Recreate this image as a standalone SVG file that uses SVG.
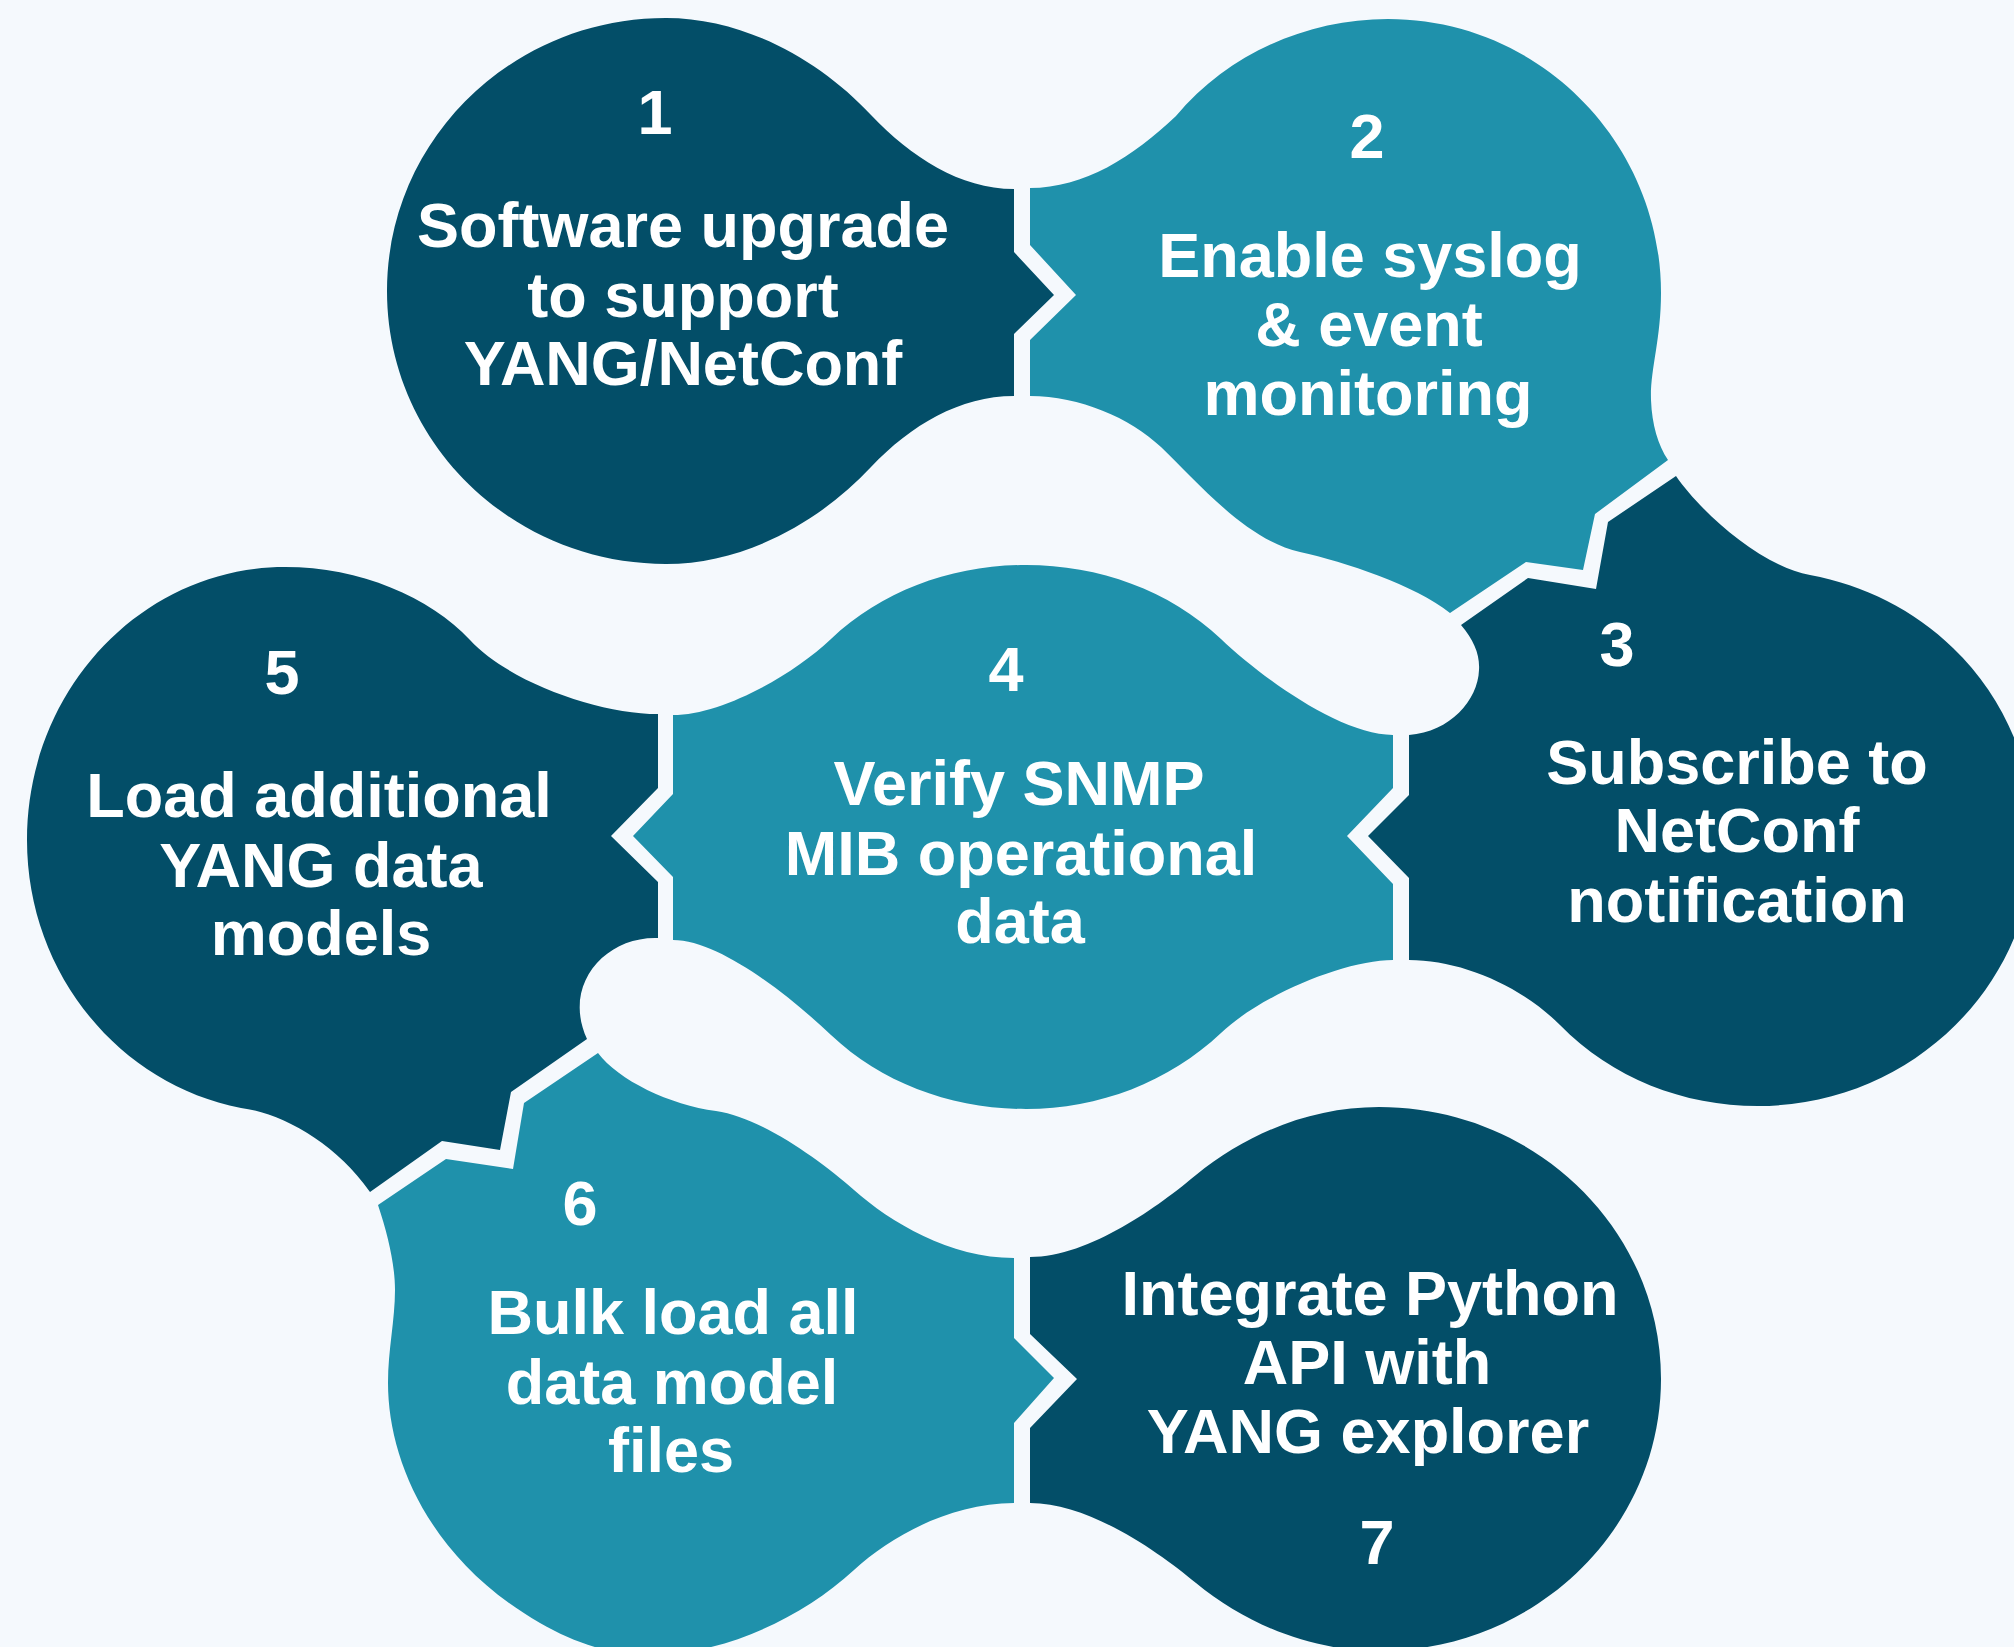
<svg xmlns="http://www.w3.org/2000/svg" width="2014" height="1647" viewBox="0 0 2014 1647">
  <style>
    .dark { fill: #034e68; }
    .teal { fill: #1f91ab; }
    .lbl { fill: #ffffff; font-family: "Liberation Sans", Arial, sans-serif; font-weight: bold; font-size: 63px; text-anchor: middle; }
  </style>
  <rect width="2014" height="1647" fill="#f5f9fd"/>

  <!-- Step 1 -->
  <g id="step1">
    <path class="dark" d="M 1014 189 L 1014 252 L 1054 295 L 1014 334 L 1014 396
      C 960 396, 911 425, 871 467
      C 819 523, 743 564, 666 564
      C 512 564, 387 442, 387 291
      C 387 140, 512 18, 666 18
      C 743 18, 819 59, 871 115
      C 911 157, 960 189, 1014 189 Z"/>
    <text class="lbl" x="655" y="134">1</text>
    <text class="lbl" x="683" y="247">Software upgrade</text>
    <text class="lbl" x="683" y="317">to support</text>
    <text class="lbl" x="683" y="385">YANG/NetConf</text>
  </g>

  <!-- Step 2 -->
  <g id="step2">
    <path class="teal" d="M 1030 188
      C 1084 188, 1133 157, 1176 116
      C 1228 54, 1307 19, 1388 19
      C 1539 19, 1661 142, 1661 293
      C 1661 340, 1650 370, 1651 400
      C 1652 425, 1658 445, 1668 460
      L 1595 514 L 1583 570 L 1526 562 L 1450 613
      C 1415 585, 1345 562, 1300 552
      C 1245 540, 1195 479, 1161 447
      C 1130 418, 1080 396, 1030 396
      L 1030 340 L 1076 295 L 1030 245 Z"/>
    <text class="lbl" x="1367" y="158">2</text>
    <text class="lbl" x="1370" y="277">Enable syslog</text>
    <text class="lbl" x="1369" y="346">&amp; event</text>
    <text class="lbl" x="1368" y="415">monitoring</text>
  </g>

  <!-- Step 3 -->
  <g id="step3">
    <path class="dark" d="M 1676 476 L 1608 522 L 1596 589 L 1528 578 L 1461 625
      C 1474 640, 1480 655, 1479 670
      C 1478 700, 1450 732, 1409 735
      L 1409 795 L 1368 836 L 1409 878 L 1409 960
      C 1460 960, 1520 985, 1560 1025
      C 1612 1078, 1683 1106, 1758 1106
      C 1910 1106, 2034 986, 2034 838
      C 2034 767, 2005 698, 1953 648
      C 1914 610, 1864 585, 1810 575
      C 1760 566, 1700 511, 1676 476 Z"/>
    <text class="lbl" x="1617" y="666">3</text>
    <text class="lbl" x="1737" y="784">Subscribe to</text>
    <text class="lbl" x="1737" y="852">NetConf</text>
    <text class="lbl" x="1737" y="922">notification</text>
  </g>

  <!-- Step 4 -->
  <g id="step4">
    <path class="teal" d="M 673 715
      C 720 715, 791 677, 831 639
      C 883 590, 953 565, 1026 565
      C 1099 565, 1169 590, 1221 639
      C 1261 677, 1340 735, 1393 735
      L 1393 788 L 1347 836 L 1393 884 L 1393 960
      C 1345 960, 1261 995, 1221 1033
      C 1169 1082, 1099 1109, 1026 1109
      C 953 1109, 883 1084, 831 1035
      C 791 997, 720 940, 673 940
      L 673 877 L 633 836 L 673 794 Z"/>
    <text class="lbl" x="1006" y="691">4</text>
    <text class="lbl" x="1019" y="805">Verify SNMP</text>
    <text class="lbl" x="1021" y="875">MIB operational</text>
    <text class="lbl" x="1020" y="943">data</text>
  </g>

  <!-- Step 5 -->
  <g id="step5">
    <path class="dark" d="M 285 567
      C 360 567, 430 597, 470 640
      C 510 683, 600 714, 658 714
      L 658 788 L 611 836 L 658 882 L 658 938
      C 605 936, 562 985, 587 1039
      L 511 1092 L 500 1150 L 442 1141 L 370 1192
      C 335 1142, 281 1113, 241 1108
      C 118 1084, 27 972, 27 840
      C 27 689, 143 567, 285 567 Z"/>
    <text class="lbl" x="282" y="694">5</text>
    <text class="lbl" x="319" y="817">Load additional</text>
    <text class="lbl" x="321" y="887">YANG data</text>
    <text class="lbl" x="321" y="955">models</text>
  </g>

  <!-- Step 6 -->
  <g id="step6">
    <path class="teal" d="M 598 1053
      C 618 1080, 670 1105, 716 1111
      C 760 1117, 820 1160, 854 1190
      C 890 1222, 950 1258, 1014 1258
      L 1014 1338 L 1054 1378 L 1014 1423 L 1014 1503
      C 950 1503, 890 1537, 854 1570
      C 800 1620, 720 1655, 650 1655
      C 610 1655, 575 1643, 540 1623
      C 430 1560, 388 1460, 388 1383
      C 388 1350, 395 1320, 395 1290
      C 395 1265, 388 1235, 378 1205
      L 446 1159 L 513 1169 L 524 1103 Z"/>
    <text class="lbl" x="580" y="1225">6</text>
    <text class="lbl" x="673" y="1334">Bulk load all</text>
    <text class="lbl" x="672" y="1404">data model</text>
    <text class="lbl" x="671" y="1472">files</text>
  </g>

  <!-- Step 7 -->
  <g id="step7">
    <path class="dark" d="M 1030 1257
      C 1090 1257, 1160 1205, 1196 1175
      C 1247 1133, 1312 1107, 1379 1107
      C 1535 1107, 1661 1229, 1661 1379
      C 1661 1529, 1535 1651, 1379 1651
      C 1312 1651, 1247 1625, 1196 1583
      C 1160 1553, 1090 1503, 1030 1503
      L 1030 1428 L 1077 1379 L 1030 1334 Z"/>
    <text class="lbl" x="1370" y="1315">Integrate Python</text>
    <text class="lbl" x="1367" y="1384">API with</text>
    <text class="lbl" x="1368" y="1453">YANG explorer</text>
    <text class="lbl" x="1377" y="1564">7</text>
  </g>

  <!-- chevron joints are cut into the step outlines above -->
  <g id="connectors"/>
</svg>
